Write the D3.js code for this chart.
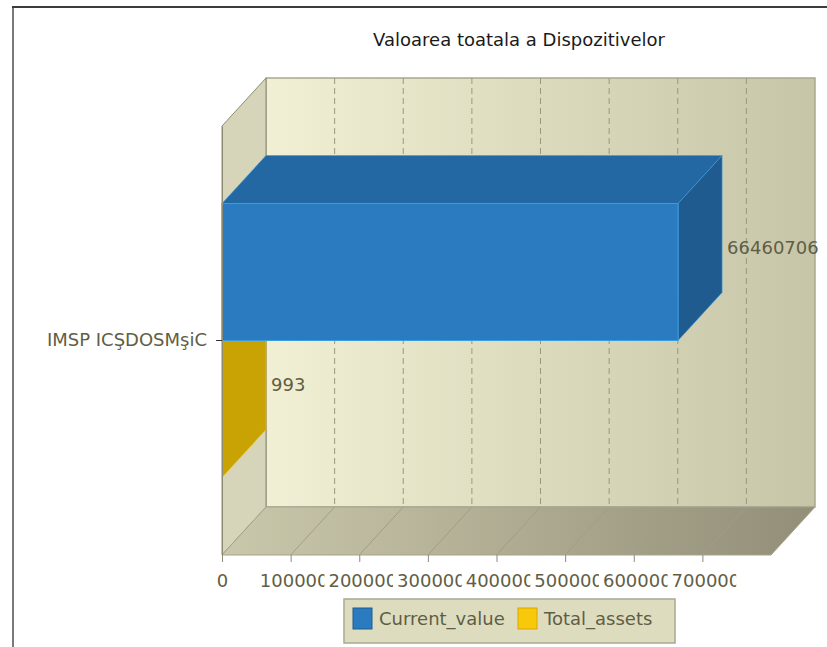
<!DOCTYPE html>
<html>
<head>
<meta charset="utf-8">
<script src="https://cdn.jsdelivr.net/npm/d3@7"></script>
<style>
  body { margin: 0; background: #fff; }
  svg { display: block; font-family: "DejaVu Sans", Verdana, sans-serif; }
</style>
</head>
<body>
<script>
var categories = ["IMSP ICŞDOSMşiC"]
var seriesNames = ["Current_value", "Total_assets"]
var currentValue = [66460706]
var totalAssets = [993]
var xTicks = [0, 10000000, 20000000, 30000000, 40000000, 50000000, 60000000, 70000000]
var xMax = 80000000

var width = 827, height = 647
var depth = { dx: 44, dy: -48 }
var textColor = "#5f5e45"

var svg = d3.select("body").append("svg")
  .attr("width", width)
  .attr("height", height)

// frame
svg.append("line").attr("x1", 13).attr("y1", 7).attr("x2", 13).attr("y2", height)
  .attr("stroke", "#7a7a7a").attr("stroke-width", 2)
svg.append("line").attr("x1", 12).attr("y1", 7).attr("x2", width).attr("y2", 7)
  .attr("stroke", "#3c3c3c").attr("stroke-width", 2)

svg.append("text")
  .attr("x", 519).attr("y", 46)
  .attr("text-anchor", "middle")
  .attr("font-size", 18)
  .attr("fill", "#1a1a1a")
  .text("Valoarea toatala a Dispozitivelor")

var x = d3.scaleLinear().domain([0, xMax]).range([222, 771])
var y = d3.scaleBand().domain(categories).range([126, 555])
var ySub = d3.scaleBand().domain(seriesNames).range([0, y.bandwidth()]).paddingOuter(0.566)

var plotLeft = x.range()[0], plotRight = x.range()[1]
var plotTop = y.range()[0], plotBottom = y.range()[1]

var defs = svg.append("defs")
var gWall = defs.append("linearGradient").attr("id", "wall")
gWall.append("stop").attr("offset", "0%").attr("stop-color", "#f2f0d4")
gWall.append("stop").attr("offset", "100%").attr("stop-color", "#c7c5a7")
var gFloor = defs.append("linearGradient").attr("id", "floor")
gFloor.append("stop").attr("offset", "0%").attr("stop-color", "#cac8ab")
gFloor.append("stop").attr("offset", "100%").attr("stop-color", "#928e78")

function poly(pts) { return "M" + pts.map(function(p) { return p.join(",") }).join("L") + "Z" }

// back wall
svg.append("rect")
  .attr("x", plotLeft + depth.dx).attr("y", plotTop + depth.dy)
  .attr("width", plotRight - plotLeft).attr("height", plotBottom - plotTop)
  .attr("fill", "url(#wall)")
  .attr("stroke", "#a9a791").attr("stroke-width", 1.5)

// left wall
svg.append("path")
  .attr("d", poly([[plotLeft, plotTop], [plotLeft + depth.dx, plotTop + depth.dy],
    [plotLeft + depth.dx, plotBottom + depth.dy], [plotLeft, plotBottom]]))
  .attr("fill", "#d6d5b9")
  .attr("stroke", "#8d8b75").attr("stroke-width", 1)

// floor
svg.append("path")
  .attr("d", poly([[plotLeft, plotBottom], [plotRight, plotBottom],
    [plotRight + depth.dx, plotBottom + depth.dy], [plotLeft + depth.dx, plotBottom + depth.dy]]))
  .attr("fill", "url(#floor)")
  .attr("stroke", "#a5a38b").attr("stroke-width", 1)

// grid lines
var gridTicks = xTicks.slice(1)
svg.selectAll("line.wall-grid")
  .data(gridTicks)
  .enter().append("line")
  .attr("class", "wall-grid")
  .attr("x1", function(d) { return x(d) + depth.dx })
  .attr("x2", function(d) { return x(d) + depth.dx })
  .attr("y1", plotTop + depth.dy)
  .attr("y2", plotBottom + depth.dy)
  .attr("stroke", "#989880")
  .attr("stroke-dasharray", "6,4")

svg.selectAll("line.floor-grid")
  .data(gridTicks)
  .enter().append("line")
  .attr("class", "floor-grid")
  .attr("x1", function(d) { return x(d) })
  .attr("y1", plotBottom)
  .attr("x2", function(d) { return x(d) + depth.dx })
  .attr("y2", plotBottom + depth.dy)
  .attr("stroke", "#a09e86")

// bars
var barData = []
categories.forEach(function(c, i) {
  barData.push({ cat: c, series: "Total_assets", value: totalAssets[i],
    front: "#d9ad05", top: "#e2b808", side: "#c9a204", edge: "#f5c518" })
  barData.push({ cat: c, series: "Current_value", value: currentValue[i],
    front: "#2a7bbf", top: "#2368a2", side: "#1f5b8f", edge: "#3a9ce2" })
})

var bars = svg.selectAll("g.bar")
  .data(barData)
  .enter().append("g")
  .attr("class", "bar")

bars.each(function(d) {
  var g = d3.select(this)
  var y0 = y(d.cat) + ySub(d.series)
  var h = ySub.bandwidth()
  var x0 = x(0), x1 = x(d.value)
  g.append("path")
    .attr("d", poly([[x0, y0], [x0 + depth.dx, y0 + depth.dy], [x1 + depth.dx, y0 + depth.dy], [x1, y0]]))
    .attr("fill", d.top).attr("stroke", d.edge).attr("stroke-width", 0.6)
  g.append("path")
    .attr("d", poly([[x1, y0], [x1 + depth.dx, y0 + depth.dy], [x1 + depth.dx, y0 + h + depth.dy], [x1, y0 + h]]))
    .attr("fill", d.side).attr("stroke", d.edge).attr("stroke-width", 0.6)
  g.append("rect")
    .attr("x", x0).attr("y", y0)
    .attr("width", Math.max(0, x1 - x0)).attr("height", h)
    .attr("fill", d.front).attr("stroke", d.edge).attr("stroke-width", 1)
})

bars.append("text")
  .attr("x", function(d) { return x(d.value) + depth.dx + 5 })
  .attr("y", function(d) { return y(d.cat) + ySub(d.series) + ySub.bandwidth() / 2 + depth.dy / 2 })
  .attr("dy", "0.36em")
  .attr("font-size", 18)
  .attr("fill", textColor)
  .text(function(d) { return d.value })

// axes
var xAxis = svg.append("g")
  .attr("transform", "translate(0," + plotBottom + ")")
  .call(d3.axisBottom(x).tickValues(xTicks).tickSize(7).tickPadding(12).tickFormat(d3.format("d")))
xAxis.select(".domain").remove()
xAxis.selectAll(".tick line").attr("stroke", "#8d8b75")

// labels wider than one tick step get cut off, like the original
var step = x(xTicks[1]) - x(xTicks[0])
xAxis.selectAll(".tick text")
  .attr("font-size", 18)
  .attr("font-family", "DejaVu Sans, sans-serif")
  .attr("fill", textColor)
  .each(function(d, i) {
    var t = d3.select(this)
    if (this.getComputedTextLength() > step - 6) {
      var id = "tickclip" + i
      defs.append("clipPath").attr("id", id)
        .append("rect").attr("x", -step / 2 + 2).attr("y", 0).attr("width", step - 3).attr("height", 40)
      t.attr("text-anchor", "start").attr("x", -step / 2 + 3)
        .attr("clip-path", "url(#" + id + ")")
    }
  })

var yAxis = svg.append("g")
  .attr("transform", "translate(" + plotLeft + ",0)")
  .call(d3.axisLeft(y).tickSize(6).tickSizeOuter(0).tickPadding(9))
yAxis.select(".domain").attr("stroke", "#8d8b75")
yAxis.selectAll(".tick line").attr("stroke", "#333")
yAxis.selectAll(".tick text")
  .attr("font-size", 18)
  .attr("font-family", "DejaVu Sans, sans-serif")
  .attr("fill", textColor)

// legend
var legend = svg.append("g")
legend.append("rect")
  .attr("x", 344).attr("y", 599).attr("width", 331).attr("height", 44)
  .attr("fill", "#dedcbf").attr("stroke", "#a9a892").attr("stroke-width", 1.5)
var legendColors = ["#2a7bbf", "#f8c80a"]
var legendEdges = ["#1f5b8f", "#d8a800"]
var legendX = [353, 518]
var items = legend.selectAll("g.item")
  .data(seriesNames)
  .enter().append("g")
  .attr("class", "item")
  .attr("transform", function(d, i) { return "translate(" + legendX[i] + ",608)" })
items.append("rect")
  .attr("width", 19).attr("height", 21)
  .attr("fill", function(d, i) { return legendColors[i] })
  .attr("stroke", function(d, i) { return legendEdges[i] })
items.append("text")
  .attr("x", 26).attr("y", 10.5).attr("dy", "0.36em")
  .attr("font-size", 18)
  .attr("fill", textColor)
  .text(function(d) { return d })
</script>
</body>
</html>
